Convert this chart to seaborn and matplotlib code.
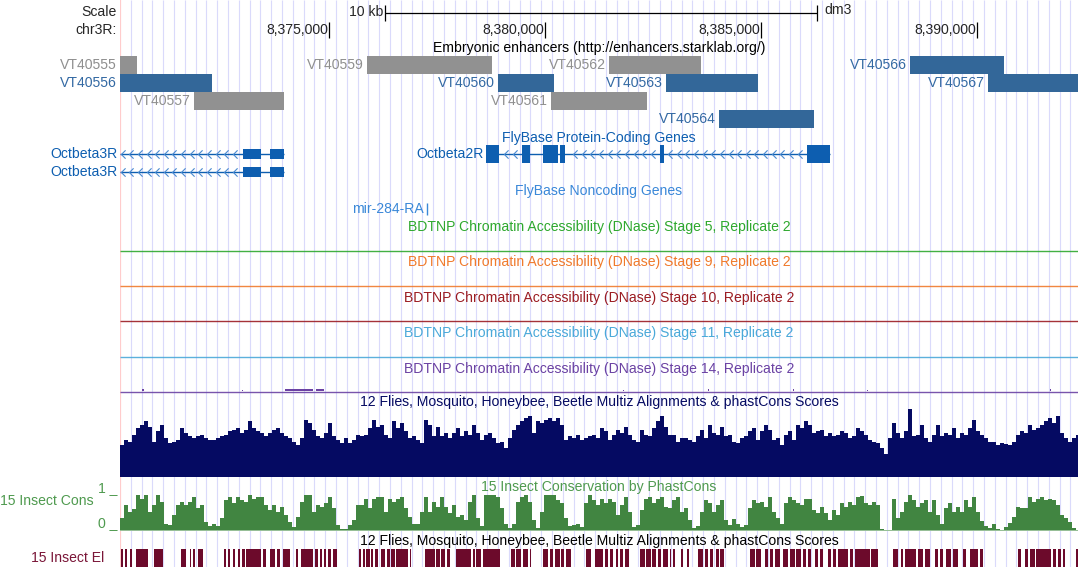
import numpy as np
import matplotlib
matplotlib.use("Agg")
import matplotlib.pyplot as plt
from matplotlib.path import Path
from matplotlib.transforms import offset_copy
import seaborn as sns

sns.set_theme(style="white")
plt.rcParams["font.family"] = ["Liberation Sans", "DejaVu Sans"]
FS = 10.1

# dm3 chr3R window shown in the browser
win_start = 8370160
win_end = 8392338

ruler_ticks = [8375000, 8380000, 8385000, 8390000]
scale_bar = [8376296, 8386296]

# Embryonic enhancers (Stark lab)
enh_names = ["VT40555", "VT40556", "VT40557", "VT40559", "VT40560", "VT40561",
             "VT40562", "VT40563", "VT40564", "VT40566", "VT40567"]
enh_starts = [8370100, 8370100, 8371875, 8375880, 8378912, 8380139,
              8381481, 8382801, 8384028, 8388449, 8390255]
enh_ends = [8370556, 8372292, 8373958, 8378773, 8380208, 8382361,
            8383611, 8384931, 8386227, 8390625, 8392400]
enh_rows = [0, 1, 2, 0, 1, 2, 0, 1, 3, 0, 1]
enh_active = [False, True, False, False, True, False, False, True, True, True, True]

# FlyBase protein-coding genes
oct3_span = [8369000, 8373958]
oct3_exon_starts = [8373009, 8373634]
oct3_exon_ends = [8373426, 8373958]
oct2_span = [8378635, 8386598]
oct2_exon_starts = [8378635, 8379468, 8379954, 8380348, 8382662, 8386065]
oct2_exon_ends = [8378936, 8379653, 8380301, 8380463, 8382755, 8386598]
mir284_pos = 8377269

# DNase tracks (signal is flat apart from a few tiny bumps on stage 14)
dnase_titles = ["Stage 5, Replicate 2", "Stage 9, Replicate 2", "Stage 10, Replicate 2",
                "Stage 11, Replicate 2", "Stage 14, Replicate 2"]
dnase_colors = ["#2ea82e", "#f07a2c", "#9b1c22", "#4aa9d9", "#6b42a3"]
s14_bump_starts = [8370680, 8372980, 8373978, 8374700, 8381800, 8383770, 8385740, 8387450, 8391690]
s14_bump_ends = [8370720, 8373010, 8374626, 8374880, 8381830, 8383800, 8385770, 8387480, 8391720]
s14_bump_height = [1.5, 1.0, 2.0, 1.5, 1.0, 1.5, 1.5, 1.0, 1.5]

# Multiz / phastCons scores, one value per ~93 bp bin from the window start
multiz = [
    0.47, 0.54, 0.51, 0.61, 0.71, 0.76, 0.81, 0.73, 0.51, 0.66,
    0.76, 0.56, 0.49, 0.51, 0.54, 0.71, 0.64, 0.59, 0.56, 0.59,
    0.61, 0.56, 0.54, 0.54, 0.56, 0.59, 0.61, 0.66, 0.68, 0.71,
    0.64, 0.68, 0.81, 0.71, 0.66, 0.64, 0.59, 0.64, 0.68, 0.71,
    0.64, 0.59, 0.56, 0.51, 0.47, 0.56, 0.83, 0.78, 0.68, 0.59,
    0.56, 0.64, 0.78, 0.59, 0.54, 0.49, 0.56, 0.49, 0.54, 0.61,
    0.59, 0.61, 0.71, 0.83, 0.73, 0.76, 0.61, 0.57, 0.81, 0.71,
    0.78, 0.66, 0.56, 0.59, 0.54, 0.49, 0.83, 0.76, 0.59, 0.73,
    0.59, 0.64, 0.56, 0.64, 0.71, 0.59, 0.66, 0.61, 0.76, 0.64,
    0.54, 0.61, 0.64, 0.56, 0.49, 0.51, 0.42, 0.56, 0.68, 0.76,
    0.81, 0.85, 0.88, 0.64, 0.81, 0.78, 0.83, 0.85, 0.81, 0.85,
    0.76, 0.54, 0.59, 0.56, 0.61, 0.54, 0.56, 0.59, 0.61, 0.56,
    0.71, 0.66, 0.54, 0.61, 0.68, 0.64, 0.73, 0.61, 0.54, 0.51,
    0.68, 0.61, 0.59, 0.71, 0.81, 0.88, 0.73, 0.61, 0.61, 0.51,
    0.56, 0.56, 0.54, 0.51, 0.59, 0.68, 0.56, 0.76, 0.64, 0.61,
    0.73, 0.59, 0.61, 0.51, 0.50, 0.56, 0.59, 0.66, 0.71, 0.54,
    0.66, 0.76, 0.68, 0.54, 0.56, 0.47, 0.61, 0.66, 0.54, 0.76,
    0.71, 0.81, 0.76, 0.64, 0.66, 0.68, 0.59, 0.64, 0.59, 0.61,
    0.66, 0.64, 0.56, 0.59, 0.71, 0.66, 0.61, 0.54, 0.51, 0.49,
    0.42, 0.34, 0.56, 0.78, 0.64, 0.56, 0.66, 0.98, 0.59, 0.61,
    0.76, 0.56, 0.51, 0.61, 0.76, 0.59, 0.64, 0.61, 0.71, 0.56,
    0.64, 0.61, 0.71, 0.83, 0.66, 0.61, 0.56, 0.51, 0.51, 0.47,
    0.49, 0.48, 0.47, 0.51, 0.61, 0.66, 0.64, 0.76, 0.68, 0.71,
    0.76, 0.81, 0.85, 0.78, 0.88, 0.64, 0.56, 0.51, 0.56, 0.61,
]
phastcons = [
    0.35, 0.72, 0.53, 0.60, 1.00, 0.90, 1.00, 0.53, 0.72, 1.00,
    0.81, 0.20, 0.16, 0.44, 0.72, 0.81, 0.72, 0.81, 0.95, 0.63,
    0.72, 0.25, 0.14, 0.20, 0.14, 0.35, 0.86, 0.95, 0.77, 0.95,
    0.86, 0.81, 1.00, 0.90, 0.95, 0.95, 0.72, 0.58, 0.72, 0.53,
    0.67, 0.44, 0.25, 0.11, 0.39, 0.81, 1.00, 1.00, 0.53, 0.72,
    0.67, 0.77, 0.95, 0.63, 0.16, 0.05, 0.05, 0.16, 0.30, 0.72,
    0.72, 0.90, 0.63, 0.90, 0.95, 0.95, 0.53, 0.90, 0.81, 0.90,
    0.95, 0.63, 0.39, 0.20, 0.20, 0.53, 0.95, 0.53, 0.81, 0.67,
    0.95, 0.67, 0.49, 0.72, 0.39, 0.44, 0.30, 0.81, 1.00, 0.35,
    0.14, 1.00, 1.00, 1.00, 0.95, 0.63, 0.20, 0.08, 0.20, 0.81,
    0.95, 1.00, 0.81, 0.30, 0.08, 0.53, 1.00, 1.00, 1.00, 0.86,
    0.77, 0.35, 0.14, 0.16, 0.20, 0.11, 0.77, 1.00, 0.86, 0.72,
    0.90, 0.77, 0.90, 0.81, 0.44, 0.72, 0.95, 0.53, 0.11, 0.16,
    0.58, 0.90, 0.95, 0.77, 0.90, 0.95, 0.67, 0.63, 0.86, 0.95,
    0.53, 0.63, 0.30, 0.08, 0.14, 0.53, 0.86, 0.77, 0.53, 0.72,
    0.86, 0.30, 0.16, 0.33, 0.20, 0.11, 0.16, 0.63, 0.86, 0.77,
    0.81, 0.67, 0.95, 0.53, 0.35, 0.20, 0.77, 0.95, 0.86, 0.77,
    0.72, 0.90, 0.90, 0.58, 0.49, 0.67, 0.49, 0.30, 0.58, 0.44,
    0.77, 0.67, 0.81, 0.72, 0.95, 0.98, 0.77, 0.72, 0.81, 0.72,
    0.05, 0.03, 0.03, 0.90, 0.35, 0.53, 0.81, 1.00, 0.86, 0.67,
    0.77, 0.86, 0.53, 0.86, 0.44, 0.20, 0.63, 0.77, 0.53, 0.67,
    0.53, 0.86, 0.67, 0.95, 0.53, 0.27, 0.14, 0.08, 0.20, 0.05,
    0.03, 0.11, 0.23, 0.39, 0.67, 0.63, 0.63, 0.95, 0.81, 0.90,
    0.95, 0.86, 0.90, 0.86, 0.72, 0.44, 0.35, 0.25, 0.08, 0.03,
]
score_bin = 92.6

# 15 insect conserved elements
el_starts = [8370190, 8370283, 8370385, 8370537, 8370947, 8371579, 8371774, 8371850, 8371966,
             8372568, 8372660, 8372776, 8372892, 8372984, 8373084, 8373470, 8373626, 8373801,
             8373933, 8374241, 8374343, 8374667, 8374783, 8374876, 8374975, 8375091, 8375686,
             8375785, 8375862, 8375978, 8376056, 8376209, 8376348, 8376441, 8376556, 8376866,
             8377214, 8377482, 8377598, 8377737, 8377945, 8378332, 8378408, 8378563, 8379219,
             8379334, 8379489, 8379644, 8379952, 8380108, 8380223, 8380376, 8380492, 8380955,
             8381149, 8381381, 8381496, 8381649, 8381728, 8381844, 8382191, 8382337, 8382476,
             8382615, 8382730, 8382886, 8382962, 8383140, 8383293, 8383541, 8383696, 8383811,
             8383964, 8384043, 8384738, 8384890, 8385085, 8385201, 8385316, 8385508, 8385663,
             8385816, 8385971, 8386087, 8386242, 8386358, 8386550, 8386666, 8386782, 8387053,
             8387168, 8387553, 8388055, 8388247, 8388326, 8388634, 8388803, 8389020, 8389136,
             8389289, 8389444, 8389675, 8389830, 8390062, 8390949, 8391104, 8391219, 8391372,
             8391759, 8391875, 8391990, 8392298]
el_ends = [8370223, 8370322, 8370438, 8370808, 8371155, 8371695, 8371811, 8371903, 8372081,
           8372621, 8372700, 8372829, 8372945, 8373047, 8373431, 8373547, 8373741, 8373857,
           8374089, 8374281, 8374628, 8374744, 8374836, 8374936, 8375051, 8375190, 8375746,
           8375825, 8375940, 8376017, 8376133, 8376288, 8376403, 8376519, 8376827, 8376904,
           8377445, 8377561, 8377691, 8377792, 8378293, 8378385, 8378524, 8378950, 8379297,
           8379450, 8379605, 8379682, 8380068, 8380184, 8380339, 8380439, 8380608, 8381071,
           8381341, 8381457, 8381573, 8381688, 8381804, 8381936, 8382314, 8382453, 8382575,
           8382691, 8382846, 8382923, 8383015, 8383193, 8383325, 8383656, 8383772, 8383888,
           8384020, 8384143, 8384853, 8385006, 8385161, 8385277, 8385432, 8385624, 8385779,
           8385932, 8386047, 8386164, 8386319, 8386434, 8386627, 8386742, 8387013, 8387129,
           8387516, 8387708, 8388171, 8388286, 8388594, 8388749, 8388904, 8389097, 8389212,
           8389405, 8389560, 8389752, 8390023, 8390138, 8391025, 8391180, 8391335, 8391720,
           8391836, 8391951, 8392029, 8392338]

# colours
grid_c = "#dadafb"
gene_c = "#0d5eb0"
nc_c = "#3a88d8"
gray_box, gray_txt = "#919191", "#8f8f8f"
blue_box, blue_txt = "#336799", "#3369a3"
navy = "#050a62"
cons_c = "#418541"
cons_txt = "#4f9a4f"
el_c = "#6c0a2b"
el_txt = "#7a1638"

W_PX, H_PX = 1078, 567
LEFT = 120
fig = plt.figure(figsize=(W_PX / 100, H_PX / 100), dpi=100)
fig.patch.set_facecolor("white")

ax = fig.add_axes([LEFT / W_PX, 0, (W_PX - LEFT) / W_PX, 1])
ax.set_xlim(win_start, win_end)
ax.set_ylim(H_PX, 0)
ax.axis("off")

lab = fig.add_axes([0, 0, 1, 1], zorder=5)
lab.set_xlim(0, W_PX)
lab.set_ylim(H_PX, 0)
lab.axis("off")
lab.patch.set_alpha(0)


def shifted(dx):
    return offset_copy(ax.transData, fig=fig, x=dx, y=0, units="dots")


def title(y, text, color):
    lab.text((LEFT + W_PX) / 2, y, text, ha="center", va="center", fontsize=FS, color=color)


# guide lines and left edge
guides = np.arange(8370410, win_end, 250)
ax.vlines(guides, 0, H_PX, color=grid_c, lw=0.8, zorder=0)
ax.axvline(win_start, color="#ffcccc", lw=1.6, zorder=0)

# ruler
lab.text(117, 12, "Scale", ha="right", va="center", fontsize=FS)
lab.text(117, 30, "chr3R:", ha="right", va="center", fontsize=FS)
ax.hlines(13, scale_bar[0], scale_bar[1], color="black", lw=0.9)
ax.vlines(scale_bar, 5, 21, color="black", lw=0.9)
ax.text(scale_bar[0], 12, "10 kb", transform=shifted(-2), ha="right", va="center", fontsize=FS)
ax.text(scale_bar[1], 10, "dm3", transform=shifted(7), ha="left", va="center", fontsize=FS)
ax.vlines(ruler_ticks, 22, 38, color="black", lw=0.9)
for t in ruler_ticks:
    ax.text(t, 30, f"{t:,}", transform=shifted(-1), ha="right", va="center", fontsize=FS)

# enhancers
title(48, "Embryonic enhancers (http://enhancers.starklab.org/)", "black")
row_y = [65, 83, 101, 119]
for name, s, e, r, act in zip(enh_names, enh_starts, enh_ends, enh_rows, enh_active):
    ax.barh(row_y[r], e - s, left=s, height=17.5, color=blue_box if act else gray_box,
            lw=0, zorder=2)
    ax.text(max(s, win_start), row_y[r], name, transform=shifted(-3), ha="right", va="center",
            fontsize=FS, color=blue_txt if act else gray_txt, clip_on=False)

# protein-coding genes
title(138, "FlyBase Protein-Coding Genes", gene_c)
chev = Path([(0.5, 1), (-0.5, 0), (0.5, -1)], [Path.MOVETO, Path.LINETO, Path.LINETO])


def draw_gene(y, span, starts, ends, h, name):
    s0 = max(span[0], win_start)
    ax.hlines(y, s0, span[1], color=gene_c, lw=1.0, zorder=2)
    pts = np.arange(s0 + 60, span[1], 200)
    keep = [p for p in pts if not any(a - 60 < p < b + 60 for a, b in zip(starts, ends))]
    ax.plot(keep, [y] * len(keep), ls="none", marker=chev, ms=6, mfc="none",
            mec="#4a8ad0", mew=0.8, zorder=2)
    ax.barh([y] * len(starts), np.array(ends) - np.array(starts), left=starts, height=h,
            color=gene_c, lw=0, zorder=3)
    ax.text(s0, y, name, transform=shifted(-2), ha="right", va="center", fontsize=FS,
            color=gene_c, clip_on=False)


draw_gene(154, oct3_span, oct3_exon_starts, oct3_exon_ends, 10, "Octbeta3R")
draw_gene(172, oct3_span, oct3_exon_starts, oct3_exon_ends, 10, "Octbeta3R")
draw_gene(154, oct2_span, oct2_exon_starts, oct2_exon_ends, 18, "Octbeta2R")

# noncoding genes
title(191, "FlyBase Noncoding Genes", nc_c)
ax.vlines(mir284_pos, 203, 215, color=nc_c, lw=1.0)
ax.text(mir284_pos, 209, "mir-284-RA", transform=shifted(-3), ha="right", va="center",
        fontsize=FS, color=nc_c)

# DNase accessibility tracks
for i, (stage, col) in enumerate(zip(dnase_titles, dnase_colors)):
    top = 227 + i * 35.4
    title(top, "BDTNP Chromatin Accessibility (DNase) " + stage, col)
    ax.hlines(top + 23.5, win_start, win_end, color=col, lw=1.0, alpha=0.9)
ax.bar(s14_bump_starts, [-h for h in s14_bump_height],
       width=np.array(s14_bump_ends) - np.array(s14_bump_starts),
       bottom=390.5, align="edge", color=dnase_colors[4], lw=0)

# Multiz conservation
centers = win_start + score_bin * (np.arange(len(multiz)) + 0.5)
title(402, "12 Flies, Mosquito, Honeybee, Beetle Multiz Alignments & phastCons Scores", navy)
mz_ax = fig.add_axes([LEFT / W_PX, 1 - 477 / H_PX, (W_PX - LEFT) / W_PX, 69 / H_PX])
sns.barplot(x=centers, y=multiz, native_scale=True, color=navy, saturation=1, width=1,
            errorbar=None, linewidth=0, ax=mz_ax)
mz_ax.set_xlim(win_start, win_end)
mz_ax.set_ylim(0, 1)
mz_ax.axis("off")

# phastCons
title(487, "15 Insect Conservation by PhastCons", cons_txt)
lab.text(0, 501, "15 Insect Cons", ha="left", va="center", fontsize=FS, color=cons_txt)
lab.text(117, 488, "1 _", ha="right", va="center", fontsize=FS, color=cons_txt)
lab.text(117, 523, "0 _", ha="right", va="center", fontsize=FS, color=cons_txt)
pc_ax = fig.add_axes([LEFT / W_PX, 1 - 531 / H_PX, (W_PX - LEFT) / W_PX, 36 / H_PX])
sns.barplot(x=centers, y=phastcons, native_scale=True, color=cons_c, saturation=1, width=1,
            errorbar=None, linewidth=0, ax=pc_ax)
pc_ax.axhline(0, color="#a9cba9", lw=1.2)
pc_ax.set_xlim(win_start, win_end)
pc_ax.set_ylim(0, 1)
pc_ax.axis("off")

# conserved elements
title(541, "12 Flies, Mosquito, Honeybee, Beetle Multiz Alignments & phastCons Scores", "black")
lab.text(104, 558, "15 Insect El", ha="right", va="center", fontsize=FS, color=el_txt)
ax.broken_barh(list(zip(el_starts, np.array(el_ends) - np.array(el_starts))), (549, 18),
               facecolors=el_c, lw=0)

fig.savefig("out.png", dpi=100)
